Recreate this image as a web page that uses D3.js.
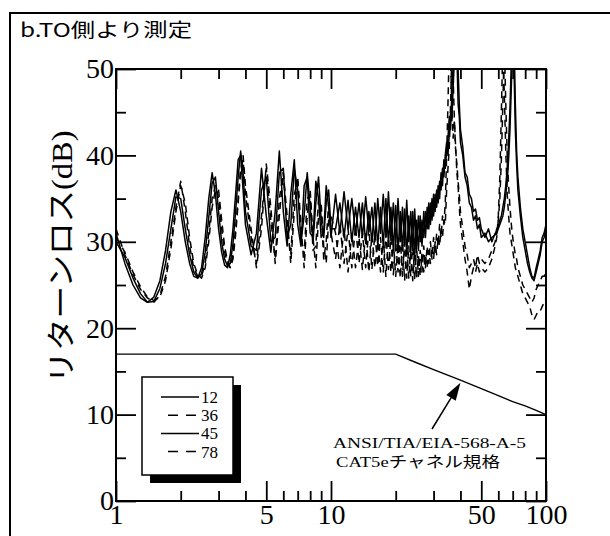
<!DOCTYPE html>
<html>
<head>
<meta charset="utf-8">
<script src="https://cdn.jsdelivr.net/npm/d3@7"></script>
<style>
  html, body { margin: 0; padding: 0; background: #fff; }
  svg { display: block; }
</style>
</head>
<body>
<svg id="chart" width="610" height="536"></svg>
<script>
// Measurement frequencies (MHz)
const freqMHz = [
  1.0, 1.1, 1.2, 1.3, 1.4, 1.5, 1.6, 1.7, 1.8, 1.9, 2.0, 2.1, 2.2, 2.3, 2.4, 2.5, 2.6, 2.7, 2.8, 2.9,
  3.0, 3.1, 3.2, 3.3, 3.4, 3.5, 3.6, 3.7, 3.8, 3.9, 4.0,
  4.25, 4.5, 4.75, 5.0, 5.25, 5.5, 5.75, 6.0, 6.25, 6.5, 6.75, 7.0, 7.25, 7.5, 7.75, 8.0, 8.25, 8.5,
  8.75, 9.0, 9.25, 9.5, 9.75, 10.0,
  10.5, 11, 11.5, 12, 12.5, 13, 13.5, 14, 14.5, 15, 15.5, 16, 16.5, 17, 17.5, 18, 18.5, 19, 19.5, 20,
  20.5, 21, 21.5, 22, 22.5, 23, 23.5, 24, 24.5, 25, 25.5, 26, 26.5, 27, 27.5, 28, 28.5, 29, 29.5, 30,
  30.5, 31, 31.5, 32, 32.5, 33, 33.5, 34,
  34.5, 35, 35.5, 36, 36.5, 37, 37.5, 38, 38.5, 39, 39.5, 40,
  41, 42, 43, 44, 45, 46, 47, 48, 49, 50,
  52, 54, 56, 58,
  59, 60, 61, 62, 63, 64, 65, 66, 67, 68, 69, 70, 71, 72, 73, 74,
  76, 78, 80, 82, 84, 86, 88, 90, 92, 94, 96, 98, 100
];

// Return loss (dB) per wire pair
const rl12 = [
  31.0, 27.5, 25.0, 23.5, 23.0, 23.6, 25.5, 29.0, 33.5, 36.0,
  33.5, 30.0, 27.5, 26.0, 25.8, 27.0, 30.5, 35.0, 38.0, 35.5,
  31.5, 28.8, 27.3, 27.0, 28.5, 31.5, 35.5, 39.5, 40.0, 36.0, 32.0,
  28.5, 31.0, 38.5, 33.0, 28.8, 33.5, 40.5, 33.5, 29.5, 35.5, 39.5, 32.0,
  29.5, 36.5, 37.5, 31.0, 30.5, 37.0, 35.0, 30.5, 31.0, 36.5, 34.0, 30.5,
  35.5, 31.0, 35.8, 31.5, 35.0, 31.0, 34.5, 30.5, 35.2, 31.2,
  34.0, 30.0, 35.0, 31.0, 35.5, 30.5, 35.8, 30.2, 34.5, 29.8,
  35.0, 30.0, 34.0, 29.5, 34.8, 30.0, 33.5, 29.0, 33.8, 29.5,
  33.0, 30.0, 32.5, 30.5, 33.5, 31.5, 34.5, 32.0, 35.0, 33.0,
  35.5, 34.0, 36.5, 35.0, 38.0, 36.5, 39.5, 38.5,
  40.5, 42.0, 44.5, 43.0, 47.5, 50.5, 54.0, 56.0, 52.0, 46.0, 44.5, 41.5,
  40.0, 37.5, 36.5, 34.5, 34.0, 32.5, 33.0, 31.5, 32.0, 30.5,
  31.0, 30.0, 30.5, 30.8,
  31.5, 31.8, 32.5, 33.0, 34.0, 35.0, 36.5, 38.5, 41.5, 45.5, 51.0, 56.0, 50.0, 43.0, 39.0, 36.0,
  33.0, 30.5, 29.0, 27.5, 26.5, 25.8, 25.5, 26.5, 27.5, 28.5, 30.0, 30.5, 31.5
];

const rl36 = [
  31.5, 28.5, 26.2, 24.5, 23.5, 23.0, 23.8, 26.0, 30.0, 34.0,
  37.0, 33.5, 29.5, 27.0, 26.0, 26.0, 27.5, 31.0, 35.0, 36.5,
  35.0, 31.5, 28.8, 27.5, 27.0, 28.5, 31.5, 35.0, 38.5, 39.5, 35.5,
  30.5, 27.5, 33.0, 38.5, 32.5, 28.0, 35.0, 38.0, 31.5, 28.5, 35.5, 37.0,
  30.5, 28.5, 35.0, 35.5, 29.0, 29.5, 35.0, 33.5, 28.0, 30.0, 34.5, 31.0,
  28.0, 32.0, 27.5, 31.5, 27.0, 31.8, 27.5, 31.0, 27.0, 31.5,
  26.8, 31.0, 27.2, 30.5, 26.5, 31.0, 26.8, 30.5, 26.2, 30.0,
  26.5, 30.5, 26.0, 30.0, 25.8, 29.5, 26.0, 30.0, 25.5, 29.5,
  26.0, 29.0, 26.5, 29.5, 27.0, 29.5, 27.5, 30.0, 28.0, 30.5,
  28.5, 31.0, 29.5, 32.0, 30.5, 33.0, 32.0, 34.5,
  40.0, 46.0, 53.0, 51.0, 45.5, 42.0, 44.0, 41.0, 38.0, 36.5, 34.0, 32.0,
  30.0, 28.0, 26.5, 24.5, 26.0, 27.0, 26.5, 27.5, 26.5, 27.0,
  26.5, 27.0, 28.0, 29.5,
  30.5, 33.0, 37.5, 45.0, 53.0, 47.0, 40.5, 35.5, 33.0, 31.0, 30.0, 29.0, 28.0, 27.0, 26.5, 26.0,
  25.0, 24.0, 23.5, 23.0, 22.5, 21.5, 21.0, 21.5, 22.0, 22.0, 22.5, 23.0, 23.5
];

const rl45 = [
  30.0, 28.2, 25.8, 24.0, 23.0, 23.1, 24.6, 27.5, 31.5, 35.2,
  35.0, 31.5, 28.5, 26.5, 25.8, 26.3, 28.8, 32.8, 36.8, 37.5,
  33.5, 30.0, 28.0, 27.2, 27.5, 29.8, 33.5, 37.5, 40.5, 38.0, 33.5,
  29.5, 29.0, 36.0, 37.5, 30.0, 30.5, 38.0, 38.5, 30.5, 32.0, 38.5, 36.0,
  30.0, 33.0, 38.0, 34.0, 30.0, 34.5, 37.5, 32.5, 30.5, 34.5, 36.0, 31.5,
  31.5, 34.5, 30.5, 34.8, 30.0, 34.0, 30.5, 34.5, 29.8, 33.5,
  30.0, 34.5, 29.5, 34.0, 29.5, 35.0, 29.8, 34.0, 29.0, 34.2,
  28.8, 33.5, 29.0, 33.8, 28.5, 33.0, 28.8, 33.5, 28.5, 32.5,
  29.0, 33.0, 29.5, 33.5, 30.5, 34.0, 31.5, 34.5, 32.5, 35.5,
  33.5, 36.0, 34.5, 37.0, 36.0, 38.5, 37.5, 40.0,
  41.5, 40.0, 42.5, 45.0, 44.0, 48.0, 51.0, 53.5, 55.0, 50.0, 46.0, 43.0,
  41.0, 38.0, 37.5, 35.5, 35.0, 33.5, 33.8, 32.5, 32.8, 31.5,
  30.5, 31.5, 30.0, 31.0,
  31.0, 31.5, 32.0, 32.5, 33.0, 34.0, 35.5, 37.0, 39.5, 43.0, 48.0, 53.0, 54.0, 46.0, 40.5, 37.5,
  34.0, 31.5, 30.0, 28.5, 27.0, 26.0, 25.8, 27.0, 28.0, 29.0, 30.5, 31.0, 32.0
];

const rl78 = [
  30.5, 28.8, 26.5, 24.8, 23.6, 23.2, 23.6, 25.5, 29.2, 33.5,
  36.5, 34.5, 30.5, 27.5, 26.2, 25.8, 27.0, 30.0, 34.0, 36.0,
  36.0, 32.5, 29.5, 27.8, 27.0, 28.0, 30.8, 34.5, 38.0, 40.0, 36.5,
  31.5, 27.0, 31.5, 39.0, 34.0, 27.5, 33.0, 38.0, 33.0, 27.5, 33.5, 37.5,
  32.0, 27.0, 33.0, 36.0, 30.5, 27.0, 33.0, 34.5, 29.5, 27.5, 32.5, 33.0,
  31.0, 27.0, 31.5, 26.5, 31.0, 27.0, 30.5, 26.8, 31.0, 26.5,
  30.8, 27.0, 30.0, 26.5, 30.5, 26.0, 30.5, 26.5, 30.0, 26.0,
  29.8, 25.8, 30.0, 25.5, 29.5, 25.8, 29.0, 25.5, 29.5, 25.8,
  28.5, 26.0, 28.8, 26.5, 28.5, 27.0, 29.0, 27.5, 29.5, 28.0,
  30.0, 28.5, 30.5, 29.5, 31.5, 30.5, 32.5, 32.0,
  36.0, 38.5, 41.0, 46.0, 52.0, 49.0, 44.0, 40.5, 39.0, 37.0, 35.5, 33.5,
  31.5, 29.5, 28.5, 27.0, 27.5, 28.0, 27.0, 28.5, 27.5, 28.0,
  27.5, 28.0, 29.0, 30.0,
  31.0, 32.5, 35.0, 39.5, 46.0, 53.0, 46.0, 40.0, 36.5, 34.0, 32.0, 30.5, 29.5, 28.5, 28.0, 27.0,
  26.0, 25.0, 24.5, 24.0, 23.5, 23.0, 23.5, 24.5, 25.0, 25.5, 26.0, 26.0, 26.5
];

// ANSI/TIA/EIA-568-A-5 CAT5e channel limit
const specFreq = [1, 20, 25, 30, 40, 50, 60, 70, 80, 90, 100];
const specRL   = [17, 17, 16.0, 15.2, 14.0, 13.0, 12.2, 11.5, 11.0, 10.5, 10.0];

const pairNames = ["12", "36", "45", "78"];
const pairDashed = [false, true, false, true];
const yMajorTicks = [0, 10, 20, 30, 40, 50];
const yMinorTicks = [5, 15, 25, 35, 45];
const xMajorTicks = [1, 5, 10, 50, 100];
const xMinorTicks = [2, 3, 4, 6, 7, 8, 9, 20, 30, 40, 60, 70, 80, 90];

const titleText = "b.TO側より測定";
const yTitleKana = "リターンロス";
const yTitleUnit = "(dB)";
const noteLine1 = "ANSI/TIA/EIA-568-A-5";
const noteLine2a = "CAT5e";
const noteLine2b = "チャネル規格";

const serif = "'Liberation Serif', 'Times New Roman', serif";
const sans = "'Noto Sans CJK JP', 'Noto Sans', sans-serif";

const svg = d3.select("#chart");
svg.append("rect").attr("width", 610).attr("height", 536).attr("fill", "#fff");

// outer frame
svg.append("rect")
  .attr("x", 10).attr("y", 13).attr("width", 650).attr("height", 600)
  .attr("fill", "none").attr("stroke", "#000").attr("stroke-width", 2);

svg.append("text")
  .attr("x", 20).attr("y", 37)
  .attr("font-family", sans).attr("font-size", 19)
  .attr("textLength", 172).attr("lengthAdjust", "spacingAndGlyphs")
  .text(titleText);

const plotL = 116, plotR = 546, plotT = 69, plotB = 501;
const x = d3.scaleLog().domain([1, 100]).range([plotL, plotR]);
const y = d3.scaleLinear().domain([0, 50]).range([plotB, plotT]);

svg.append("defs").append("clipPath").attr("id", "plotClip")
  .append("rect").attr("x", plotL).attr("y", plotT)
  .attr("width", plotR - plotL).attr("height", plotB - plotT);

// axes: ticks point inwards on all four sides
function styleAxis(g) {
  g.select(".domain").remove();
  g.selectAll(".tick line").attr("stroke", "#000").attr("stroke-width", 1.8);
  g.selectAll(".tick text").attr("fill", "#000")
    .attr("font-family", serif).attr("font-size", 28);
}
svg.append("g").attr("transform", `translate(${plotL},0)`)
  .call(d3.axisLeft(y).tickValues(yMajorTicks).tickSize(-20).tickPadding(2).tickFormat(d3.format("d")))
  .call(styleAxis);
svg.append("g").attr("transform", `translate(${plotL},0)`)
  .call(d3.axisLeft(y).tickValues(yMinorTicks).tickSize(-10).tickFormat(""))
  .call(styleAxis);
svg.append("g").attr("transform", `translate(${plotR},0)`)
  .call(d3.axisRight(y).tickValues(yMajorTicks).tickSize(-20).tickFormat(""))
  .call(styleAxis);
svg.append("g").attr("transform", `translate(${plotR},0)`)
  .call(d3.axisRight(y).tickValues(yMinorTicks).tickSize(-10).tickFormat(""))
  .call(styleAxis);
svg.append("g").attr("transform", `translate(0,${plotB})`)
  .call(d3.axisBottom(x).tickValues(xMajorTicks).tickSize(-20).tickPadding(3).tickFormat(d3.format("d")))
  .call(styleAxis);
svg.append("g").attr("transform", `translate(0,${plotB})`)
  .call(d3.axisBottom(x).tickValues(xMinorTicks).tickSize(-10).tickFormat(""))
  .call(styleAxis);
svg.append("g").attr("transform", `translate(0,${plotT})`)
  .call(d3.axisTop(x).tickValues(xMajorTicks).tickSize(-20).tickFormat(""))
  .call(styleAxis);
svg.append("g").attr("transform", `translate(0,${plotT})`)
  .call(d3.axisTop(x).tickValues(xMinorTicks).tickSize(-10).tickFormat(""))
  .call(styleAxis);

// y axis title
const yTitle = svg.append("text")
  .attr("transform", "translate(72,257) rotate(-90)")
  .attr("text-anchor", "middle")
  .attr("font-size", 29)
  .attr("textLength", 253).attr("lengthAdjust", "spacingAndGlyphs");
yTitle.append("tspan").attr("font-family", sans).text(yTitleKana);
yTitle.append("tspan").attr("font-family", serif).text(yTitleUnit);

// measured curves
const series = [rl12, rl36, rl45, rl78].map((vals, i) => ({
  name: pairNames[i], dashed: pairDashed[i],
  points: freqMHz.map((f, j) => [f, vals[j]])
}));
const line = d3.line().x(d => x(d[0])).y(d => y(d[1]));
const curves = svg.append("g").attr("clip-path", "url(#plotClip)");
curves.selectAll("path.rl").data(series).join("path")
  .attr("class", "rl")
  .attr("d", d => line(d.points))
  .attr("fill", "none").attr("stroke", "#000").attr("stroke-width", 1.5)
  .attr("stroke-linejoin", "round")
  .attr("stroke-dasharray", d => d.dashed ? "7,5" : null);

// channel limit
svg.append("path")
  .attr("d", line(specFreq.map((f, i) => [f, specRL[i]])))
  .attr("fill", "none").attr("stroke", "#000").attr("stroke-width", 1.4);

// plot frame
svg.append("rect")
  .attr("x", plotL).attr("y", plotT)
  .attr("width", plotR - plotL).attr("height", plotB - plotT)
  .attr("fill", "none").attr("stroke", "#000").attr("stroke-width", 2);

// legend with drop shadow
const lg = svg.append("g");
lg.append("rect").attr("x", 150).attr("y", 385).attr("width", 91).attr("height", 98).attr("fill", "#000");
lg.append("rect").attr("x", 142).attr("y", 377).attr("width", 91).attr("height", 98)
  .attr("fill", "#fff").attr("stroke", "#000").attr("stroke-width", 1.5);
series.forEach((s, i) => {
  const ly = 397 + i * 18.2;
  lg.append("line")
    .attr("x1", s.dashed ? 168 : 161).attr("x2", 199)
    .attr("y1", ly).attr("y2", ly)
    .attr("stroke", "#000").attr("stroke-width", 1.5)
    .attr("stroke-dasharray", s.dashed ? "10,8" : null);
  lg.append("text")
    .attr("x", 201).attr("y", ly + 6)
    .attr("font-family", serif).attr("font-size", 17)
    .text(s.name);
});

// annotation pointing at the limit line
const tipF = 40, tipRL = 13.7;
const tip = [x(tipF), y(tipRL)];
const tail = [432, 429];
const ang = Math.atan2(tip[1] - tail[1], tip[0] - tail[0]);
const headLen = 18, headW = 5.5;
const base = [tip[0] - headLen * Math.cos(ang), tip[1] - headLen * Math.sin(ang)];
svg.append("line")
  .attr("x1", tail[0]).attr("y1", tail[1]).attr("x2", base[0]).attr("y2", base[1])
  .attr("stroke", "#000").attr("stroke-width", 1.5);
svg.append("path")
  .attr("d", d3.line()([
    tip,
    [base[0] + headW * Math.sin(ang), base[1] - headW * Math.cos(ang)],
    [base[0] - headW * Math.sin(ang), base[1] + headW * Math.cos(ang)]
  ]) + "Z")
  .attr("fill", "#000");

svg.append("text")
  .attr("x", 333).attr("y", 448)
  .attr("font-family", serif).attr("font-size", 15)
  .attr("textLength", 193).attr("lengthAdjust", "spacingAndGlyphs")
  .text(noteLine1);
const note2 = svg.append("text")
  .attr("x", 336).attr("y", 467)
  .attr("font-size", 15)
  .attr("textLength", 164).attr("lengthAdjust", "spacingAndGlyphs");
note2.append("tspan").attr("font-family", serif).text(noteLine2a);
note2.append("tspan").attr("font-family", sans).text(noteLine2b);
</script>
</body>
</html>
